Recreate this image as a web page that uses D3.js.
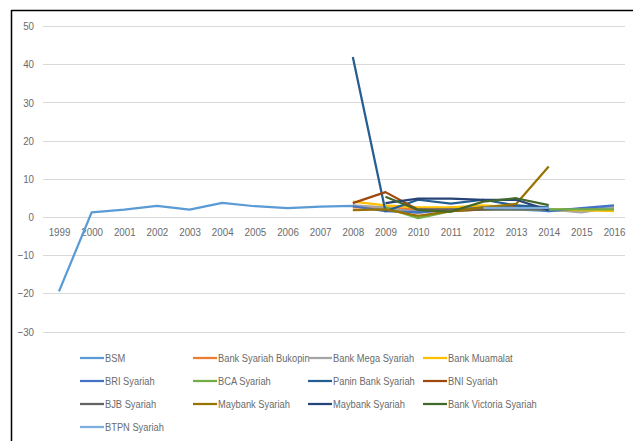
<!DOCTYPE html>
<html><head><meta charset="utf-8">
<script src="https://cdn.jsdelivr.net/npm/d3@7"></script>
<style>body{margin:0;background:#fff}svg{display:block}</style>
</head><body>
<svg id="c" width="633" height="441"></svg>
<script>
const years = ["1999","2000","2001","2002","2003","2004","2005","2006","2007","2008","2009","2010","2011","2012","2013","2014","2015","2016"];
const yTicks = [-30,-20,-10,0,10,20,30,40,50];
const seriesNames = ["BSM","Bank Syariah Bukopin","Bank Mega Syariah","Bank Muamalat","BRI Syariah","BCA Syariah","Panin Bank Syariah","BNI Syariah","BJB Syariah","Maybank Syariah","Maybank Syariah","Bank Victoria Syariah","BTPN Syariah"];
const seriesColors = ["#5B9BD5","#ED7D31","#A5A5A5","#FFC000","#4472C4","#70AD47","#255E91","#9E480E","#636363","#997300","#264478","#43682B","#7CAFDD"];
const N = null;
const bsm      = [-19.5,1.2,1.9,2.9,1.9,3.7,2.8,2.3,2.7,2.9,2.2,1.5,1.8,2.3,2.0,1.5,2.0,2.5];
const bukopin  = [N,N,N,N,N,N,N,N,N,2.5,2.5,2.0,2.0,2.0,2.2,2.0,1.9,2.0];
const mega     = [N,N,N,N,N,N,N,N,N,3.0,2.5,1.0,2.5,2.0,2.0,2.0,1.2,2.5];
const muamalat = [N,N,N,N,N,N,N,N,N,4.0,3.0,2.5,2.5,3.0,2.5,1.8,1.8,1.5];
const bri      = [N,N,N,N,N,N,N,N,N,2.8,1.5,1.2,1.8,2.5,3.0,1.5,2.3,3.0];
const bca      = [N,N,N,N,N,N,N,N,N,N,2.5,-0.3,1.5,2.0,2.0,2.0,2.0,2.0];
const panin    = [N,N,N,N,N,N,N,N,N,41.9,1.5,4.5,3.5,4.5,3.0,2.5,N,N];
const bni      = [N,N,N,N,N,N,N,N,N,3.6,6.5,1.9,1.5,2.0,2.5,N,N,N];
const bjb      = [N,N,N,N,N,N,N,N,N,N,N,2.0,2.0,2.0,2.0,2.0,N,N];
const maybank1 = [N,N,N,N,N,N,N,N,N,1.8,2.0,0.3,1.5,2.5,3.4,13.2,N,N];
const maybank2 = [N,N,N,N,N,N,N,N,N,N,3.6,4.8,4.8,4.5,4.5,1.8,N,N];
const victoria = [N,N,N,N,N,N,N,N,N,N,5.3,1.8,1.4,4.0,4.9,3.1,N,N];
const btpn     = [N,N,N,N,N,N,N,N,N,N,N,N,N,2.4,2.3,2.4,N,N];
const seriesValues = [bsm,bukopin,mega,muamalat,bri,bca,panin,bni,bjb,maybank1,maybank2,victoria,btpn];

const svg = d3.select("#c");
const font = "'Liberation Sans',Arial,sans-serif";
const sx = 0.85, lsx = 0.81;
const x = d3.scalePoint().domain(years).range([59, 614]);
const y = d3.scaleLinear().domain([-30, 50]).range([331.5, 26]);

// frame
svg.append("line").attr("x1",11).attr("x2",633).attr("y1",10.5).attr("y2",10.5).attr("stroke","#000").attr("stroke-width",1.5);
svg.append("line").attr("x1",11.5).attr("x2",11.5).attr("y1",10).attr("y2",441).attr("stroke","#000").attr("stroke-width",1.5);

// grid
svg.append("g").selectAll("line").data(yTicks).join("line")
  .attr("x1",43).attr("x2",625).attr("y1",d=>Math.round(y(d))+0.5).attr("y2",d=>Math.round(y(d))+0.5)
  .attr("stroke","#d9d9d9").attr("stroke-width",1);

// y axis labels
const ya = svg.append("g").attr("transform","translate(34,0)")
  .call(d3.axisLeft(y).tickValues(yTicks).tickSize(0).tickPadding(0).tickFormat(d3.format("d")));
ya.select(".domain").remove();
ya.selectAll("text").attr("x",0).attr("transform",`scale(${sx},1)`)
  .attr("font-family",font).attr("font-size",11.5).attr("fill","#6b6b6b");

// x axis labels
const xa = svg.append("g").attr("transform",`translate(0,${y(0)+11})`)
  .call(d3.axisBottom(x).tickSize(0).tickPadding(0));
xa.select(".domain").remove();
xa.selectAll("text").attr("transform",`scale(${sx},1)`)
  .attr("font-family",font).attr("font-size",11.5).attr("fill","#6b6b6b");

// lines
const line = d3.line().defined(d=>d.v!==null).x(d=>x(d.yr)).y(d=>y(d.v));
seriesValues.forEach((vals,i)=>{
  const pts = vals.map((v,j)=>({yr:years[j],v:v}));
  svg.append("path").datum(pts).attr("d",line).attr("fill","none")
    .attr("stroke",seriesColors[i]).attr("stroke-width",2.25).attr("stroke-linejoin","round");
});

// legend
const colX = [80,193,308,423];
const rowY = [358,381,404,427];
seriesNames.forEach((name,i)=>{
  const cx = colX[i%4], cy = rowY[Math.floor(i/4)];
  const g = svg.append("g");
  g.append("line").attr("x1",cx).attr("x2",cx+24).attr("y1",cy).attr("y2",cy)
    .attr("stroke",seriesColors[i]).attr("stroke-width",2.25);
  g.append("text").attr("transform",`translate(${cx+25},${cy}) scale(${lsx},1)`).attr("dy","0.35em")
    .attr("font-family",font).attr("font-size",11.5).attr("fill","#6b6b6b").text(name);
});
</script>
</body></html>
